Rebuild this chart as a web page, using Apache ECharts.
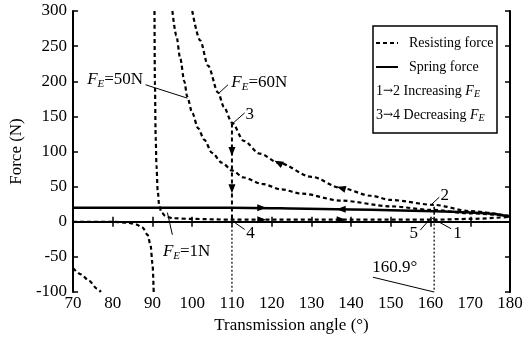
<!DOCTYPE html>
<html>
<head>
<meta charset="utf-8">
<title>Force vs transmission angle</title>
<script src="https://cdn.jsdelivr.net/npm/echarts@6/dist/echarts.min.js"></script>
<style>
  html, body { margin: 0; padding: 0; background: #fff; }
  #chart { width: 527px; height: 343px; }
</style>
</head>
<body>
<div id="chart"></div>
<script>
// resisting force, F_E = 60N (upper curve)
const angle60 = [100, 102, 104, 106.5, 108, 110, 113, 117, 121.7, 130, 137.5, 145, 150, 160.9, 170, 180];
const force60 = [300, 258, 222, 184, 163, 141, 115, 97, 84, 64, 48, 37, 31, 24, 15, 8];

// resisting force, F_E = 50N (middle curve + the piece bottom-left)
const angle50 = [95, 96, 97, 98, 98.75, 100, 101.5, 103, 105, 107.5, 110, 113, 117.5, 122.5, 127.5, 137.5, 150, 160, 170, 180];
const force50 = [300, 265, 232, 200, 178, 155, 133, 117, 98, 84, 73, 63, 54, 46, 40, 30, 22, 17, 12, 8];
const angle50Neg = [70, 72, 74, 76, 77];
const force50Neg = [-66, -75, -84, -95, -100];

// resisting force, F_E = 1N (both sides of 90 deg)
const angle1Left = [70, 80, 84, 86, 87.5, 88.75, 89.5, 90, 90.3];
const force1Left = [0, 0, -1.5, -4, -8.5, -18.5, -33, -60, -100];
const angle1Right = [90.5, 90.6, 90.8, 91, 91.3, 91.7, 92.3, 93.3, 95, 100, 110, 140, 160.9, 170, 180];
const force1Right = [300, 200, 120, 80, 45, 22, 13, 8, 5, 4, 3, 3, 3, 4, 7];

// spring force
const angleSpring = [70, 110, 125, 140, 150, 160.9, 170, 176, 180];
const forceSpring = [20, 20, 19, 17.5, 16.5, 15, 13, 11, 7];

// state changes: 3 -> 4 at 110 deg, 1 -> 2 at 160.9 deg
const jump34 = [[110, 140], [110, 0]];
const jump12 = [[160.9, 3], [160.9, 24]];
const guide110 = [[110, 0], [110, -100]];
const guide1609 = [[160.9, 3], [160.9, -100]];

// arrow heads [angle, force, rotation]
const arrows60 = [[121.7, 84, 62], [137.5, 48, 74]];
const arrowsSpring = [[117.5, 19.8, -90], [137.5, 17.8, 90]];
const arrows1N = [[117.5, 3, -90], [137.5, 3, -90]];
const arrows34 = [[110, 100, 180], [110, 47, 180]];

// annotations
const noteText = ['{i|F}{s|E}=50N', '{i|F}{s|E}=60N', '{i|F}{s|E}=1N', '3', '4', '2', '1', '5', '160.9°'];
const noteAt = [[80.6, 202], [116.9, 198], [98.6, -43], [114.5, 152], [114.7, -17], [163.6, 38], [166.8, -17], [155.8, -17], [151, -65]];
const leaders = [
  [[88.25, 195], [98.75, 176]],
  [[106.5, 182], [109, 195]],
  [[93.75, 13], [95, -18.5]],
  [[110.4, 141], [113.2, 155]],
  [[110.4, 0], [113.2, -11]],
  [[160.3, 25], [162.2, 35]],
  [[160.4, 5], [165.2, -10]],
  [[157.4, -12], [159.7, 3]],
  [[145.5, -79], [160.9, -100]]
];

const serif = '"Liberation Serif", "Times New Roman", serif';
const ink = '#000';

const zip = (xs, ys) => xs.map((x, i) => [x, ys[i]]);
const arrowPoints = list => list.map(a => ({ coord: [a[0], a[1]], symbolRotate: a[2] }));

const rich = {
  i: { fontStyle: 'italic', fontFamily: serif, fontSize: 17, color: ink },
  s: { fontStyle: 'italic', fontFamily: serif, fontSize: 11, color: ink, padding: [8, 0, 0, 0] }
};

const legendRich = {
  i: { fontStyle: 'italic', fontFamily: serif, fontSize: 14, fill: ink },
  s: { fontStyle: 'italic', fontFamily: serif, fontSize: 10, fill: ink, padding: [7, 0, 0, 0] },
  a: { fontFamily: '"DejaVu Serif", serif', fontSize: 12, fill: ink }
};

const arrowMark = list => ({
  symbol: 'triangle',
  symbolSize: [7, 9],
  itemStyle: { color: ink },
  label: { show: false },
  silent: true,
  data: arrowPoints(list)
});

const resistStyle = { color: ink, width: 2.2, type: [4, 3] };

function resisting(data, extra) {
  return Object.assign({
    name: 'Resisting force',
    type: 'line',
    data: data,
    symbol: 'none',
    smooth: 0.3,
    smoothMonotone: 'x',
    lineStyle: resistStyle,
    itemStyle: { color: ink },
    z: 3
  }, extra || {});
}

function guide(name, data, style) {
  return {
    name: name,
    type: 'line',
    data: data,
    symbol: 'none',
    lineStyle: style,
    itemStyle: { color: ink },
    z: 2
  };
}

const chart = echarts.init(document.getElementById('chart'));

chart.setOption({
  animation: false,
  backgroundColor: '#fff',
  grid: { left: 70, right: 17, top: 11, bottom: 51 },
  xAxis: [{
    type: 'value',
    min: 70,
    max: 180,
    interval: 10,
    name: 'Transmission angle (°)',
    nameLocation: 'middle',
    nameGap: 22,
    nameTextStyle: { fontFamily: serif, fontSize: 17, color: ink },
    axisLine: { lineStyle: { color: ink, width: 2 } },
    axisTick: { inside: true, length: 5, lineStyle: { color: ink, width: 1.5 } },
    axisLabel: { fontFamily: serif, fontSize: 17, color: ink, margin: 3 },
    splitLine: { show: false }
  }, {
    type: 'value',
    position: 'top',
    min: 70,
    max: 180,
    interval: 10,
    axisLine: { lineStyle: { color: ink, width: 2 } },
    axisTick: { inside: true, length: 5, lineStyle: { color: ink, width: 1.5 } },
    axisLabel: { show: false },
    splitLine: { show: false }
  }],
  yAxis: [{
    type: 'value',
    min: -100,
    max: 300,
    interval: 50,
    name: 'Force (N)',
    nameLocation: 'middle',
    nameGap: 46,
    nameTextStyle: { fontFamily: serif, fontSize: 17, color: ink },
    axisLine: { show: true, lineStyle: { color: ink, width: 2 } },
    axisTick: { show: true, inside: true, length: 5, lineStyle: { color: ink, width: 1.5 } },
    axisLabel: { fontFamily: serif, fontSize: 17, color: ink, margin: 6 },
    splitLine: { show: false }
  }, {
    type: 'value',
    position: 'right',
    min: -100,
    max: 300,
    interval: 50,
    axisLine: { show: true, lineStyle: { color: ink, width: 2 } },
    axisTick: { show: true, inside: true, length: 5, lineStyle: { color: ink, width: 1.5 } },
    axisLabel: { show: false },
    splitLine: { show: false }
  }],
  legend: {
    data: ['Resisting force', 'Spring force'],
    orient: 'vertical',
    left: 375,
    top: 34,
    padding: 0,
    itemWidth: 22,
    itemHeight: 12,
    itemGap: 6,
    selectedMode: false,
    itemStyle: { opacity: 0 },
    textStyle: { fontFamily: serif, fontSize: 14, color: ink, lineHeight: 18, padding: [0, 0, 0, 6] }
  },
  graphic: [{
    type: 'rect',
    shape: { x: 373, y: 26, width: 124, height: 107 },
    style: { fill: 'none', stroke: ink, lineWidth: 1.5 },
    silent: true
  }, {
    type: 'text',
    x: 376,
    y: 91,
    style: {
      text: '1{a|→}2 Increasing {i|F}{s|E}',
      rich: legendRich,
      font: '14px ' + serif,
      fill: ink,
      verticalAlign: 'middle'
    },
    silent: true
  }, {
    type: 'text',
    x: 376,
    y: 115,
    style: {
      text: '3{a|→}4 Decreasing {i|F}{s|E}',
      rich: legendRich,
      font: '14px ' + serif,
      fill: ink,
      verticalAlign: 'middle'
    },
    silent: true
  }],
  series: [
    resisting(zip(angle60, force60), { markPoint: arrowMark(arrows60) }),
    resisting(zip(angle50, force50)),
    resisting(zip(angle50Neg, force50Neg)),
    resisting(zip(angle1Left, force1Left)),
    resisting(zip(angle1Right, force1Right), { markPoint: arrowMark(arrows1N) }),
    {
      name: 'Spring force',
      type: 'line',
      data: zip(angleSpring, forceSpring),
      symbol: 'none',
      smooth: 0.3,
      lineStyle: { color: ink, width: 2.5, type: 'solid' },
      itemStyle: { color: ink },
      markPoint: arrowMark(arrowsSpring),
      z: 4
    },
    Object.assign(guide('jump 3-4', jump34, { color: ink, width: 2, type: [4, 3] }), { markPoint: arrowMark(arrows34) }),
    guide('jump 1-2', jump12, { color: ink, width: 1.5, type: [3, 2] }),
    guide('guide 110', guide110, { color: ink, width: 1.2, type: [2, 2] }),
    guide('guide 160.9', guide1609, { color: ink, width: 1.2, type: [2, 2] }),
    {
      name: 'notes',
      type: 'line',
      data: [],
      symbol: 'none',
      markLine: {
        silent: true,
        symbol: ['none', 'none'],
        label: { show: false },
        lineStyle: { color: ink, width: 1, type: 'solid' },
        data: leaders.map(l => [{ coord: l[0] }, { coord: l[1] }])
      },
      markPoint: {
        silent: true,
        symbol: 'circle',
        symbolSize: 1,
        itemStyle: { color: 'rgba(0,0,0,0)' },
        label: {
          show: true,
          position: 'inside',
          fontFamily: serif,
          fontSize: 17,
          color: ink,
          rich: rich
        },
        data: noteAt.map((p, i) => ({ coord: p, label: { formatter: noteText[i] } }))
      }
    }
  ]
});
</script>
</body>
</html>
